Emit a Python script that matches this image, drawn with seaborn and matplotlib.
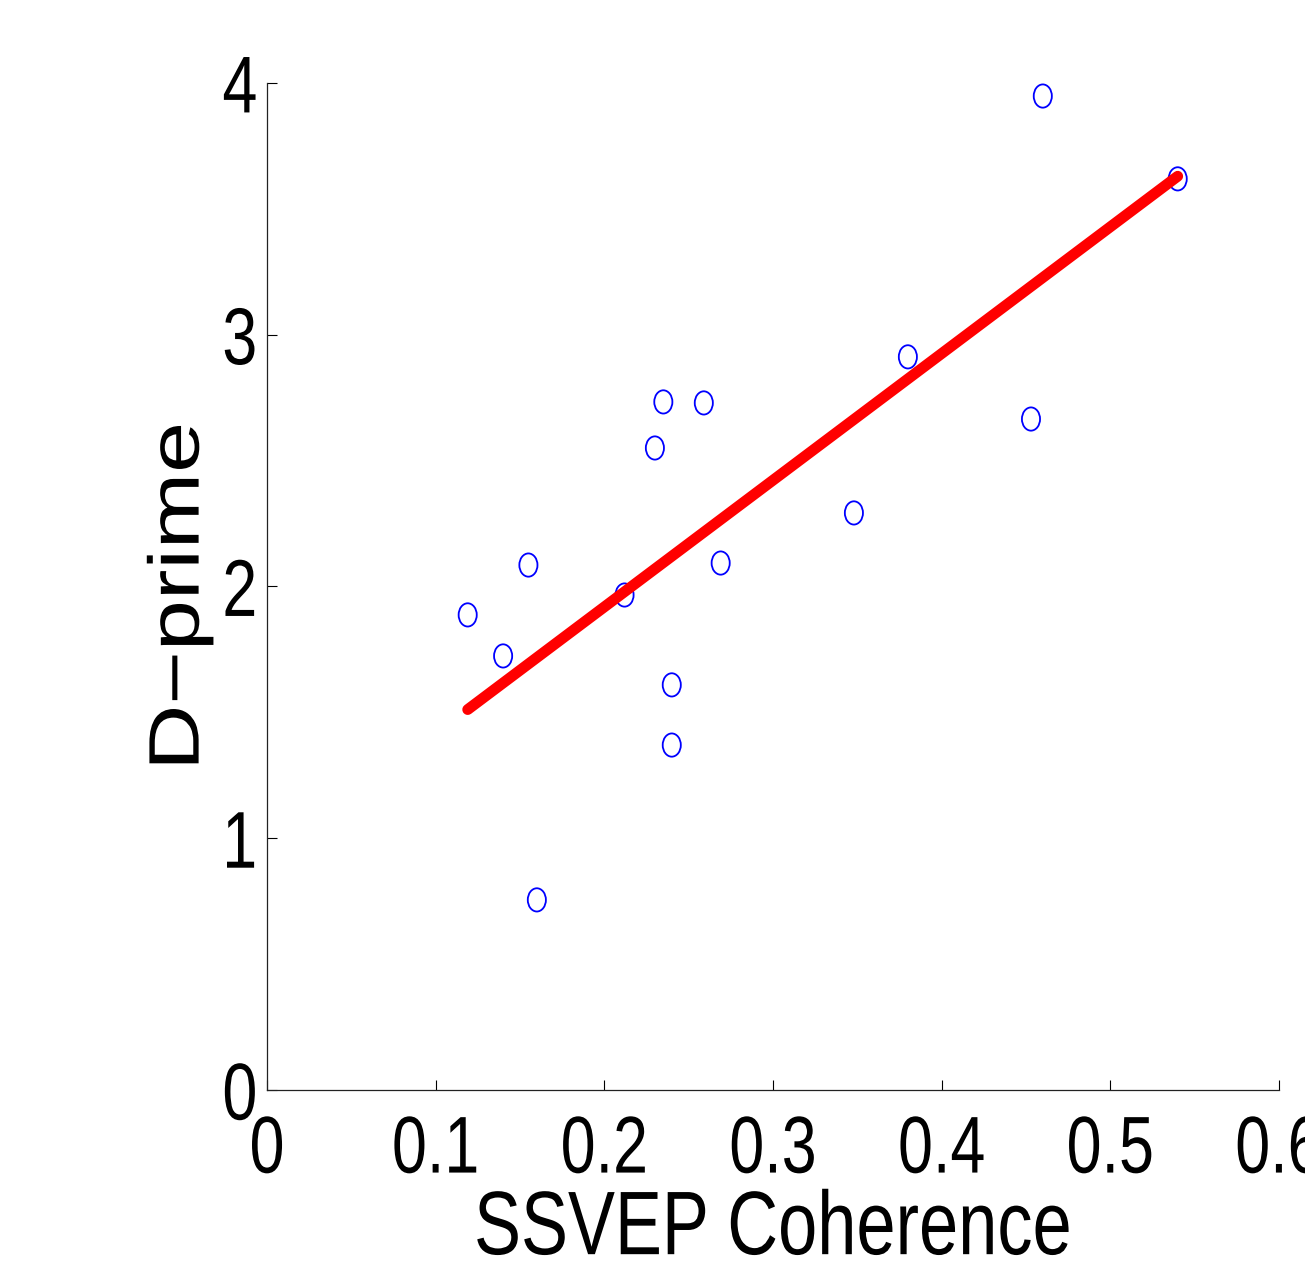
import matplotlib
matplotlib.use("Agg")
import matplotlib.pyplot as plt
import matplotlib.patheffects as pe
from matplotlib.path import Path
from matplotlib.transforms import Affine2D
import seaborn as sns
import pandas as pd

sns.set_style("ticks")
plt.rcParams["font.family"] = ["Liberation Sans", "DejaVu Sans"]
plt.rcParams["text.color"] = "black"
plt.rcParams["axes.labelcolor"] = "black"

# valores
coherence = [0.119, 0.140, 0.155, 0.160, 0.212, 0.230, 0.235, 0.240, 0.240,
             0.259, 0.269, 0.348, 0.380, 0.453, 0.460, 0.540]
dprime = [1.887, 1.724, 2.085, 0.755, 1.966, 2.550, 2.733, 1.609, 1.370,
          2.729, 2.093, 2.292, 2.912, 2.665, 3.948, 3.619]

x_ticks = [0, 0.1, 0.2, 0.3, 0.4, 0.5, 0.6]
x_tick_labels = ["0", "0.1", "0.2", "0.3", "0.4", "0.5", "0.6"]
y_ticks = [0, 1, 2, 3, 4]

SQUEEZE = 0.78  # la figura original está comprimida en horizontal


class Squeeze(pe.AbstractPathEffect):
    """Comprime el texto en x alrededor de un ancla (centro o borde derecho)."""

    def __init__(self, sx=SQUEEZE, anchor="center"):
        super().__init__()
        self.sx = sx
        self.anchor = anchor

    def draw_path(self, renderer, gc, tpath, affine, rgbFace=None):
        ext = affine.transform_path(tpath).get_extents()
        cx = ext.x1 if self.anchor == "right" else (ext.x0 + ext.x1) / 2
        t = affine + Affine2D().translate(-cx, 0).scale(self.sx, 1).translate(cx, 0)
        renderer.draw_path(gc, tpath, t, rgbFace)


circle = Path.unit_circle()
ellipse = Path(circle.vertices * [SQUEEZE, 1.0], circle.codes)

df = pd.DataFrame({"coherence": coherence, "dprime": dprime})

fig = plt.figure(figsize=(13.05, 12.76), dpi=100)
ax = fig.add_axes([0.2046, 0.1458, 0.7754, 0.7892])

sns.scatterplot(data=df, x="coherence", y="dprime", ax=ax, marker=ellipse,
                s=280, facecolors="none", edgecolor="blue", linewidth=1.3,
                zorder=2)
sns.regplot(data=df, x="coherence", y="dprime", ax=ax, scatter=False, ci=None,
            line_kws={"color": "red", "linewidth": 7.8, "solid_capstyle": "round",
                      "zorder": 3})

ax.set_xlim(0, 0.6)
ax.set_ylim(0, 4)
ax.set_xticks(x_ticks)
ax.set_xticklabels(x_tick_labels)
ax.set_yticks(y_ticks)
ax.set_yticklabels([str(v) for v in y_ticks])
ax.tick_params(direction="in", length=7, width=0.8, labelsize=58,
               colors="black")
ax.tick_params(axis="x", pad=17)
ax.tick_params(axis="y", pad=6.5)
for side in ["top", "right"]:
    ax.spines[side].set_visible(False)
for side in ["left", "bottom"]:
    ax.spines[side].set_linewidth(0.9)
    ax.spines[side].set_color("#222222")

ax.set_xlabel("SSVEP Coherence", fontsize=65, labelpad=-1)
ax.set_ylabel("D\u2212prime", fontsize=66, labelpad=-7)
ax.yaxis.label.set_y(0.49)

for lab in ax.get_xticklabels():
    lab.set_path_effects([Squeeze(anchor="center")])
for lab in ax.get_yticklabels():
    lab.set_path_effects([Squeeze(anchor="right")])
ax.xaxis.label.set_path_effects([Squeeze(anchor="center")])
ax.yaxis.label.set_path_effects([Squeeze(anchor="center")])

fig.savefig("out.png", dpi=100)
